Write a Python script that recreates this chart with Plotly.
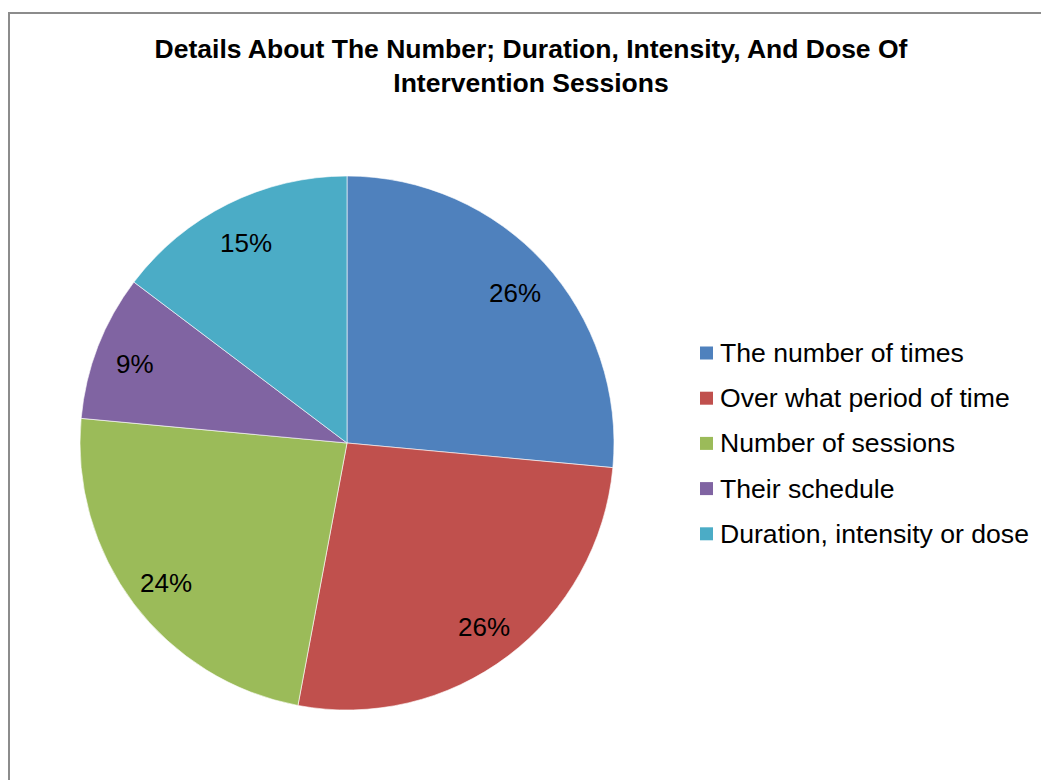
import math
import plotly.graph_objects as go

# Survey responses per category
categories = [
    "The number of times",
    "Over what period of time",
    "Number of sessions",
    "Their schedule",
    "Duration, intensity or dose",
]
counts = [9, 9, 8, 3, 5]
colors = ["#4F81BD", "#C0504D", "#9BBB59", "#8064A2", "#4BACC6"]

title_text = "Details About The Number; Duration, Intensity, And Dose Of<br>Intervention Sessions"

W, H = 1041, 780
FONT = "Liberation Sans, Arial, sans-serif"

# Pie placement in pixels
cx, cy, R = 347, 443, 267

fig = go.Figure(
    go.Pie(
        labels=categories,
        values=counts,
        sort=False,
        direction="clockwise",
        rotation=0,
        marker=dict(colors=colors, line=dict(color="white", width=0.6)),
        textinfo="none",
        hoverinfo="label+percent",
        showlegend=False,
        domain=dict(x=[(cx - R) / W, (cx + R) / W], y=[1 - (cy + R) / H, 1 - (cy - R) / H]),
    )
)

annotations = []

# Percentage labels at the middle angle of each slice
total = sum(counts)
cum = 0
for v in counts:
    mid = (cum + v / 2) / total * 2 * math.pi
    cum += v
    r = 0.85 * R
    px = cx + r * math.sin(mid)
    py = cy - r * math.cos(mid) + 3
    annotations.append(dict(
        x=px / W, y=1 - py / H, xref="paper", yref="paper",
        text=f"{round(100 * v / total)}%", showarrow=False,
        xanchor="center", yanchor="middle",
        font=dict(family=FONT, size=26, color="#000000"),
    ))

# Legend: colour squares with category names
shapes = []
leg_x, leg_y0, leg_step, sq = 700, 353, 45.2, 13
for i, (name, col) in enumerate(zip(categories, colors)):
    yc = leg_y0 + i * leg_step
    shapes.append(dict(
        type="rect", xref="paper", yref="paper",
        x0=leg_x / W, x1=(leg_x + sq) / W,
        y0=1 - (yc + sq / 2) / H, y1=1 - (yc - sq / 2) / H,
        fillcolor=col, line=dict(width=0),
    ))
    annotations.append(dict(
        x=(leg_x + sq + 5) / W, y=1 - yc / H, xref="paper", yref="paper",
        text=name, showarrow=False, xanchor="left", yanchor="middle",
        font=dict(family=FONT, size=26.6, color="#000000"),
    ))

# Chart area border (left and top edges; the others run off the page)
border = dict(color="#8C8C8C", width=2)
shapes.append(dict(type="line", xref="paper", yref="paper",
                   x0=9 / W, x1=9 / W, y0=0, y1=1 - 12 / H, line=border))
shapes.append(dict(type="line", xref="paper", yref="paper",
                   x0=9 / W, x1=1, y0=1 - 13 / H, y1=1 - 13 / H, line=border))

fig.update_layout(
    width=W, height=H,
    margin=dict(l=0, r=0, t=0, b=0),
    paper_bgcolor="white",
    plot_bgcolor="white",
    title=dict(
        text=f"<b>{title_text}</b>",
        x=531 / W, xanchor="center", xref="paper",
        y=1 - 58 / H, yanchor="top", yref="container",
        font=dict(family=FONT, size=26.5, color="#000000"),
    ),
    shapes=shapes,
    annotations=annotations,
)

fig.write_html("out.html")
